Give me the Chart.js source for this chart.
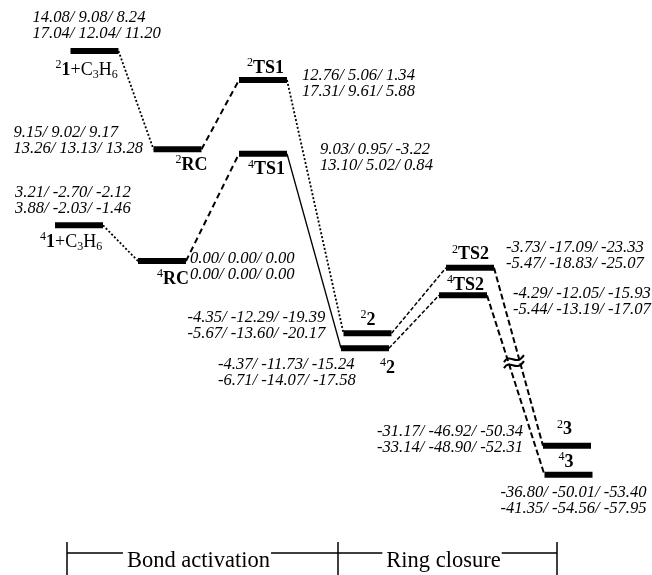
<!DOCTYPE html>
<html>
<head>
<meta charset="utf-8">
<script src="https://cdn.jsdelivr.net/npm/chart.js@4.4.1/dist/chart.umd.min.js"></script>
<style>
  html, body { margin: 0; padding: 0; background: #fff; }
  #wrap { width: 652px; height: 575px; }
</style>
</head>
<body>
<div id="wrap"><canvas id="pes" width="652" height="575"></canvas></div>
<script>
// stationary points along the path
const stageNames = ['1', 'RC', 'TS1', '2', 'TS2', '3'];

// horizontal position of each level, in stage units
const doubletX = [0.945, 1.775, 2.63, 3.675, 4.70, 5.67];
const quartetX = [0.79, 1.62, 2.63, 3.65, 4.63, 5.685];

// plotted (schematic) height of each level
const doubletLevel = [14.1, 7.5, 12.15, -4.85, -0.45, -12.4];
const quartetLevel = [2.4, 0.0, 7.2, -5.85, -2.3, -14.35];

// relative energies printed next to each level
const doubletEnergies = [
    ['14.08/ 9.08/ 8.24', '17.04/ 12.04/ 11.20'],
    ['9.15/ 9.02/ 9.17', '13.26/ 13.13/ 13.28'],
    ['12.76/ 5.06/ 1.34', '17.31/ 9.61/ 5.88'],
    ['-4.35/ -12.29/ -19.39', '-5.67/ -13.60/ -20.17'],
    ['-3.73/ -17.09/ -23.33', '-5.47/ -18.83/ -25.07'],
    ['-31.17/ -46.92/ -50.34', '-33.14/ -48.90/ -52.31']
];
const quartetEnergies = [
    ['3.21/ -2.70/ -2.12', '3.88/ -2.03/ -1.46'],
    ['0.00/ 0.00/ 0.00', '0.00/ 0.00/ 0.00'],
    ['9.03/ 0.95/ -3.22', '13.10/ 5.02/ 0.84'],
    ['-4.37/ -11.73/ -15.24', '-6.71/ -14.07/ -17.58'],
    ['-4.29/ -12.05/ -15.93', '-5.44/ -13.19/ -17.07'],
    ['-36.80/ -50.01/ -53.40', '-41.35/ -54.56/ -57.95']
];

// reaction phases along the bottom and their boundaries (stage units)
const phases = ['Bond activation', 'Ring closure'];
const phaseBounds = [0.67, 3.38, 5.57];

// ---- layout / style ----
const SERIF = '"Liberation Serif", "Times New Roman", serif';
const HALF = 0.24;          // half width of a level bar
const LINE_GAP = 16;        // between the two energy rows

// label offsets in px from the level centre: [dx, dy] (+ 'r' = right aligned)
const nameOffset = {
    d: [[-39, 19], [-2, 16], [-16, -12], [-7, -13], [-18, -13], [-10, -16]],
    q: [[-39, 17], [-5, 18], [-15, 16], [15, 20], [-16, -10], [-10, -13]]
};
const valueOffset = {
    d: [[-62, -33], [-164, -17], [39, -4], [-180, -16], [36, -20], [-44, -14, 'r']],
    q: [[-64, -33], [28, -2], [57, -4], [-147, 16], [50, -2], [-68, 18]]
};

const dotted = { dash: [2, 2], width: 1.8 };
const dashed = { dash: [6, 4], width: 2 };
const fine = { dash: [4, 2], width: 1.5 };
const solid = { dash: [], width: 1.3 };
const longDash = { dash: [6, 3], width: 2 };
const doubletLinks = [dotted, dashed, dotted, fine, longDash];
const quartetLinks = [dotted, dashed, solid, fine, longDash];

function levelSets(xs, ys) {
    return xs.map((x, i) => ({
        data: [{ x: x - HALF, y: ys[i] }, { x: x + HALF, y: ys[i] }],
        showLine: true,
        borderColor: '#000',
        borderWidth: 6,
        borderCapStyle: 'butt',
        pointRadius: 0
    }));
}

function linkSets(xs, ys, styles) {
    return styles.map((s, i) => ({
        data: [{ x: xs[i] + HALF, y: ys[i] }, { x: xs[i + 1] - HALF, y: ys[i + 1] }],
        showLine: true,
        borderColor: '#000',
        borderWidth: s.width,
        borderDash: s.dash,
        borderCapStyle: 'butt',
        pointRadius: 0
    }));
}

function nameParts(mult, i) {
    if (i === 0) {
        return [
            { t: mult, s: 'sup' }, { t: stageNames[0], s: 'b' }, { t: '+C', s: 'n' },
            { t: '3', s: 'sub' }, { t: 'H', s: 'n' }, { t: '6', s: 'sub' }
        ];
    }
    return [{ t: mult, s: 'sup' }, { t: stageNames[i], s: 'b' }];
}

function drawRich(ctx, parts, x, y) {
    let cx = x;
    parts.forEach(p => {
        let dy = 0;
        if (p.s === 'sup') { ctx.font = `12px ${SERIF}`; dy = -5; }
        else if (p.s === 'sub') { ctx.font = `12px ${SERIF}`; dy = 5; }
        else if (p.s === 'b') ctx.font = `bold 18px ${SERIF}`;
        else ctx.font = `18px ${SERIF}`;
        ctx.fillText(p.t, cx, y + dy);
        cx += ctx.measureText(p.t).width;
    });
}

const labelPlugin = {
    id: 'pesLabels',
    afterDatasetsDraw(chart) {
        const { ctx, scales: { x, y }, chartArea } = chart;
        ctx.save();
        ctx.fillStyle = '#000';
        ctx.textBaseline = 'middle';

        const sets = [
            { key: 'd', mult: '2', xs: doubletX, ys: doubletLevel, e: doubletEnergies },
            { key: 'q', mult: '4', xs: quartetX, ys: quartetLevel, e: quartetEnergies }
        ];
        sets.forEach(s => {
            s.xs.forEach((xv, i) => {
                const px = x.getPixelForValue(xv);
                const py = y.getPixelForValue(s.ys[i]);
                const [nx, ny] = nameOffset[s.key][i];
                ctx.textAlign = 'left';
                drawRich(ctx, nameParts(s.mult, i), px + nx, py + ny);
                const [vx, vy, al] = valueOffset[s.key][i];
                ctx.textAlign = al === 'r' ? 'right' : 'left';
                ctx.font = `italic 16.6px ${SERIF}`;
                s.e[i].forEach((row, r) => ctx.fillText(row, px + vx, py + vy + r * LINE_GAP));
            });
        });

        // axis break on the TS2 -> 3 connectors
        const ax = x.getPixelForValue(doubletX[4] + HALF), ay = y.getPixelForValue(doubletLevel[4]);
        const bx = x.getPixelForValue(doubletX[5] - HALF), by = y.getPixelForValue(doubletLevel[5]);
        const cx = ax + (bx - ax) * 0.53 - 6, cy = ay + (by - ay) * 0.53;
        ctx.lineWidth = 2;
        ctx.strokeStyle = '#000';
        [-3, 3].forEach(off => {
            ctx.beginPath();
            ctx.moveTo(cx - 10, cy + 3 + off);
            ctx.bezierCurveTo(cx - 4, cy - 7 + off, cx + 2, cy + 8 + off, cx + 10, cy - 4 + off);
            ctx.stroke();
        });

        // phase bracket along the bottom
        const lineY = chartArea.bottom - 22;
        ctx.lineWidth = 1.5;
        phaseBounds.forEach(b => {
            const bxp = x.getPixelForValue(b);
            ctx.beginPath();
            ctx.moveTo(bxp, lineY - 11);
            ctx.lineTo(bxp, chartArea.bottom);
            ctx.stroke();
        });
        ctx.font = `22.5px ${SERIF}`;
        ctx.textAlign = 'left';
        ctx.textBaseline = 'alphabetic';
        phases.forEach((p, i) => {
            const l = x.getPixelForValue(phaseBounds[i]);
            const r = x.getPixelForValue(phaseBounds[i + 1]);
            const w = ctx.measureText(p).width;
            const tl = (l + r) / 2 - 4 - w / 2;
            ctx.fillText(p, tl, lineY + 14);
            ctx.beginPath();
            ctx.moveTo(l, lineY); ctx.lineTo(tl - 4, lineY);
            ctx.moveTo(tl + w + 1, lineY); ctx.lineTo(r, lineY);
            ctx.stroke();
        });
        ctx.restore();
    }
};

new Chart(document.getElementById('pes'), {
    type: 'scatter',
    data: {
        datasets: [
            ...linkSets(doubletX, doubletLevel, doubletLinks),
            ...linkSets(quartetX, quartetLevel, quartetLinks),
            ...levelSets(doubletX, doubletLevel),
            ...levelSets(quartetX, quartetLevel)
        ]
    },
    options: {
        responsive: false,
        animation: false,
        layout: { padding: 0 },
        plugins: { legend: { display: false }, tooltip: { enabled: false } },
        scales: {
            x: { type: 'linear', display: false, min: 0, max: 6.52 },
            y: { type: 'linear', display: false, min: -21.07, max: 17.52 }
        }
    },
    plugins: [labelPlugin]
});
</script>
</body>
</html>
